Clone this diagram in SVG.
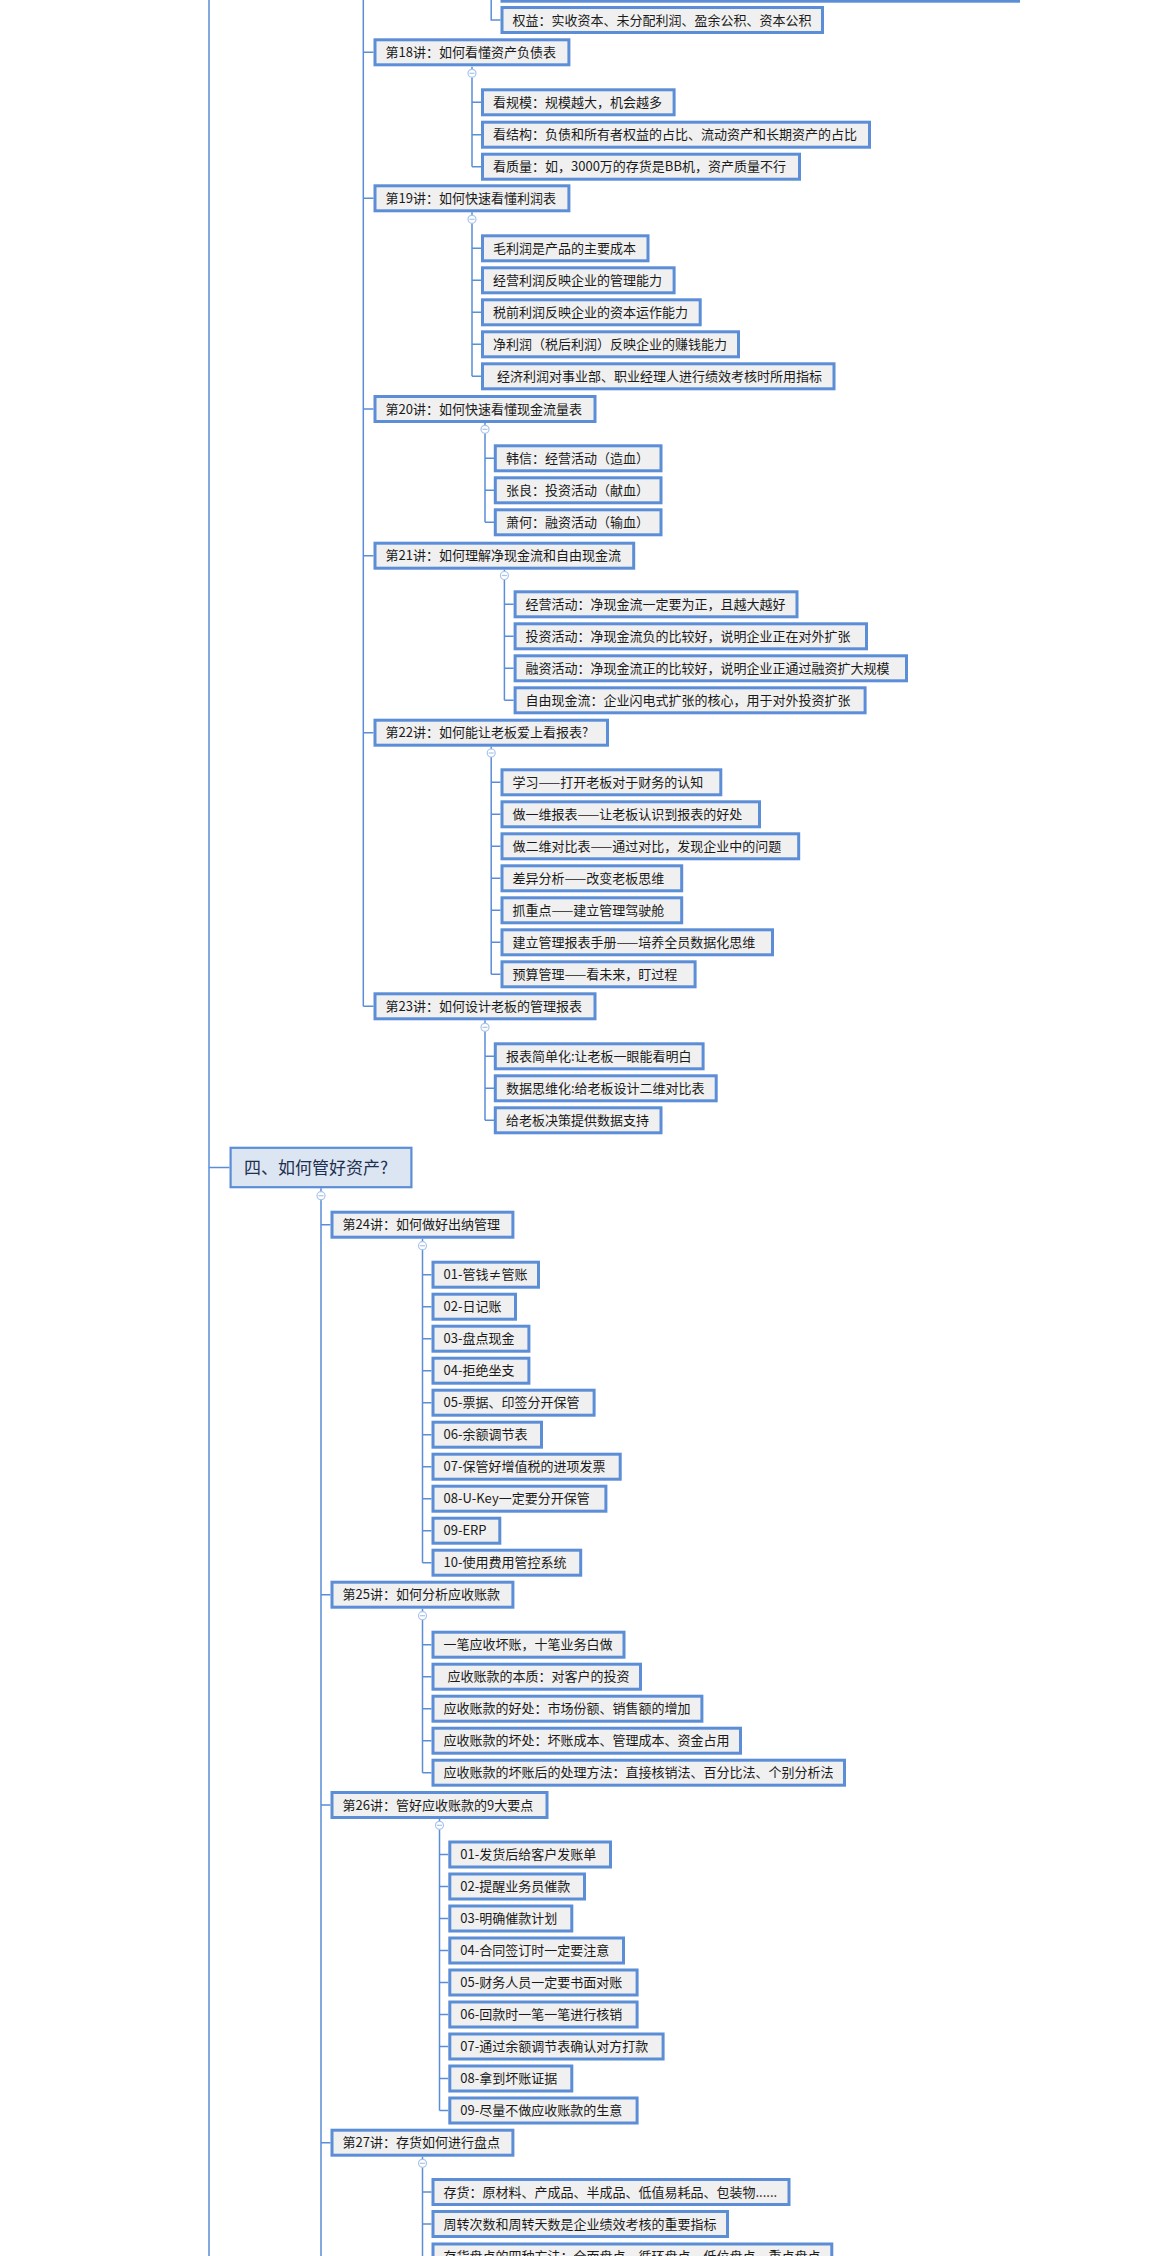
<svg xmlns="http://www.w3.org/2000/svg" width="1153" height="2256" viewBox="0 0 1153 2256">
<style>
.b{fill:#f0f0f0;stroke:#5b8ed6;stroke-width:3}
.t{font-family:"Noto Sans CJK SC","Noto Sans",sans-serif;font-size:13px;fill:#1a1a1a}
.sb{fill:#dce6f2;stroke:#5b8ed6;stroke-width:2.2}
.st{font-family:"Noto Sans CJK SC","Noto Sans",sans-serif;font-size:17px;fill:#1f2f4f}
.ln{stroke:#5b8ed6;stroke-width:1.5;fill:none}
.tg circle{fill:#fff;stroke:#a8c4ec;stroke-width:1.2}
.tg path{stroke:#a8c4ec;stroke-width:1.2}
</style>
<rect x="0" y="0" width="1153" height="2256" fill="#fff"/>
<g id="connectors">
<path class="ln" d="M209 0V2256M209 1167.5H229.5"/>
<path class="ln" d="M363.3 0V1006.3M363.3 52.3H373.5M363.3 198.3H373.5M363.3 409H373.5M363.3 555.7H373.5M363.3 732.7H373.5M363.3 1006.3H373.5"/>
<path class="ln" d="M491.2 0V20H500.5"/>
<path class="ln" d="M472 66.7V69.3M472 77.3V166.7M472 102.3H481M472 134.7H481M472 166.7H481"/>
<path class="ln" d="M472 212.3V215.3M472 223.3V376.3M472 248.3H481M472 280.3H481M472 312.3H481M472 344.3H481M472 376.3H481"/>
<path class="ln" d="M485 423V425.3M485 433.3V522.3M485 458.3H494M485 490.3H494M485 522.3H494"/>
<path class="ln" d="M504.4 569.7V571.5M504.4 579.5V700.3M504.4 604.3H513.6M504.4 636.3H513.6M504.4 668.3H513.6M504.4 700.3H513.6"/>
<path class="ln" d="M491.2 746.7V749M491.2 757V974.3M491.2 782.3H500.5M491.2 814.3H500.5M491.2 846.3H500.5M491.2 878.3H500.5M491.2 910.3H500.5M491.2 942.3H500.5M491.2 974.3H500.5"/>
<path class="ln" d="M485 1020.3V1023.3M485 1031.3V1120.3M485 1056.3H494M485 1088.3H494M485 1120.3H494"/>
<path class="ln" d="M321 1188.3V1191.7M321 1199.7V2256M321 1224.7H330.5M321 1594.7H330.5M321 1805H330.5M321 2142.7H330.5"/>
<path class="ln" d="M422.5 1238.7V1241.7M422.5 1249.7V1562.7M422.5 1274.7H431.5M422.5 1306.7H431.5M422.5 1338.7H431.5M422.5 1370.7H431.5M422.5 1402.7H431.5M422.5 1434.7H431.5M422.5 1466.7H431.5M422.5 1498.7H431.5M422.5 1530.7H431.5M422.5 1562.7H431.5"/>
<path class="ln" d="M422.5 1608.7V1611.7M422.5 1619.7V1772.7M422.5 1644.7H431.5M422.5 1676.7H431.5M422.5 1708.7H431.5M422.5 1740.7H431.5M422.5 1772.7H431.5"/>
<path class="ln" d="M439.5 1819V1821.3M439.5 1829.3V2110.5M439.5 1854.5H448.3M439.5 1886.5H448.3M439.5 1918.5H448.3M439.5 1950.5H448.3M439.5 1982.5H448.3M439.5 2014.5H448.3M439.5 2046.5H448.3M439.5 2078.5H448.3M439.5 2110.5H448.3"/>
<path class="ln" d="M422.5 2156.7V2159.3M422.5 2167.3V2256M422.5 2192H431.5M422.5 2224H431.5"/>
<g class="tg"><circle cx="472" cy="73.3" r="4"/><path d="M469.5 73.3H474.5"/></g>
<g class="tg"><circle cx="472" cy="219.3" r="4"/><path d="M469.5 219.3H474.5"/></g>
<g class="tg"><circle cx="485" cy="429.3" r="4"/><path d="M482.5 429.3H487.5"/></g>
<g class="tg"><circle cx="504.4" cy="575.5" r="4"/><path d="M501.9 575.5H506.9"/></g>
<g class="tg"><circle cx="491.2" cy="753" r="4"/><path d="M488.7 753H493.7"/></g>
<g class="tg"><circle cx="485" cy="1027.3" r="4"/><path d="M482.5 1027.3H487.5"/></g>
<g class="tg"><circle cx="321" cy="1195.7" r="4"/><path d="M318.5 1195.7H323.5"/></g>
<g class="tg"><circle cx="422.5" cy="1245.7" r="4"/><path d="M420 1245.7H425"/></g>
<g class="tg"><circle cx="422.5" cy="1615.7" r="4"/><path d="M420 1615.7H425"/></g>
<g class="tg"><circle cx="439.5" cy="1825.3" r="4"/><path d="M437 1825.3H442"/></g>
<g class="tg"><circle cx="422.5" cy="2163.3" r="4"/><path d="M420 2163.3H425"/></g>
</g>

<g id="n-top"><rect class="b" x="502" y="-23.8" width="516.5" height="25"/></g>
<g id="n-quanyi"><rect class="b" x="502" y="7.5" width="320.5" height="25"/><text class="t" x="512.5" y="24.7">权益：实收资本、未分配利润、盈余公积、资本公积</text></g>

<g id="l18"><rect class="b" x="375" y="39.8" width="193.9" height="25"/><text class="t" x="385.5" y="57">第18讲：如何看懂资产负债表</text></g>
<g id="l18-1"><rect class="b" x="482.5" y="89.8" width="191.6" height="25"/><text class="t" x="493" y="107">看规模：规模越大，机会越多</text></g>
<g id="l18-2"><rect class="b" x="482.5" y="122.2" width="387" height="25"/><text class="t" x="493" y="139.4">看结构：负债和所有者权益的占比、流动资产和长期资产的占比</text></g>
<g id="l18-3"><rect class="b" x="482.5" y="154.2" width="317" height="25"/><text class="t" x="493" y="171.4">看质量：如，3000万的存货是BB机，资产质量不行</text></g>

<g id="l19"><rect class="b" x="375" y="185.8" width="193.9" height="25"/><text class="t" x="385.5" y="203">第19讲：如何快速看懂利润表</text></g>
<g id="l19-1"><rect class="b" x="482.5" y="235.8" width="165.5" height="25"/><text class="t" x="493" y="253">毛利润是产品的主要成本</text></g>
<g id="l19-2"><rect class="b" x="482.5" y="267.8" width="191.6" height="25"/><text class="t" x="493" y="285">经营利润反映企业的管理能力</text></g>
<g id="l19-3"><rect class="b" x="482.5" y="299.8" width="217.7" height="25"/><text class="t" x="493" y="317">税前利润反映企业的资本运作能力</text></g>
<g id="l19-4"><rect class="b" x="482.5" y="331.8" width="256" height="25"/><text class="t" x="493" y="349">净利润（税后利润）反映企业的赚钱能力</text></g>
<g id="l19-5"><rect class="b" x="482.5" y="363.8" width="351.5" height="25"/><text class="t" x="497" y="381">经济利润对事业部、职业经理人进行绩效考核时所用指标</text></g>

<g id="l20"><rect class="b" x="375" y="396.5" width="220" height="25"/><text class="t" x="385.5" y="413.7">第20讲：如何快速看懂现金流量表</text></g>
<g id="l20-1"><rect class="b" x="495.3" y="445.8" width="165.7" height="25"/><text class="t" x="506" y="463">韩信：经营活动（造血）</text></g>
<g id="l20-2"><rect class="b" x="495.3" y="477.8" width="165.7" height="25"/><text class="t" x="506" y="495">张良：投资活动（献血）</text></g>
<g id="l20-3"><rect class="b" x="495.3" y="509.8" width="165.7" height="25"/><text class="t" x="506" y="527">萧何：融资活动（输血）</text></g>

<g id="l21"><rect class="b" x="375" y="543.2" width="258.7" height="25"/><text class="t" x="385.5" y="560.4">第21讲：如何理解净现金流和自由现金流</text></g>
<g id="l21-1"><rect class="b" x="515.1" y="591.8" width="281.9" height="25"/><text class="t" x="525.5" y="609">经营活动：净现金流一定要为正，且越大越好</text></g>
<g id="l21-2"><rect class="b" x="515.1" y="623.8" width="351.4" height="25"/><text class="t" x="525.5" y="641">投资活动：净现金流负的比较好，说明企业正在对外扩张</text></g>
<g id="l21-3"><rect class="b" x="515.1" y="655.8" width="391.4" height="25"/><text class="t" x="525.5" y="673">融资活动：净现金流正的比较好，说明企业正通过融资扩大规模</text></g>
<g id="l21-4"><rect class="b" x="515.1" y="687.8" width="350" height="25"/><text class="t" x="525.5" y="705">自由现金流：企业闪电式扩张的核心，用于对外投资扩张</text></g>

<g id="l22"><rect class="b" x="375" y="720.2" width="232.5" height="25"/><text class="t" x="385.5" y="737.4">第22讲：如何能让老板爱上看报表?</text></g>
<g id="l22-1"><rect class="b" x="502" y="769.8" width="218.8" height="25"/><text class="t" x="512.5" y="787">学习——打开老板对于财务的认知</text></g>
<g id="l22-2"><rect class="b" x="502" y="801.8" width="257.5" height="25"/><text class="t" x="512.5" y="819">做一维报表——让老板认识到报表的好处</text></g>
<g id="l22-3"><rect class="b" x="502" y="833.8" width="296.7" height="25"/><text class="t" x="512.5" y="851">做二维对比表——通过对比，发现企业中的问题</text></g>
<g id="l22-4"><rect class="b" x="502" y="865.8" width="179.7" height="25"/><text class="t" x="512.5" y="883">差异分析——改变老板思维</text></g>
<g id="l22-5"><rect class="b" x="502" y="897.8" width="179.7" height="25"/><text class="t" x="512.5" y="915">抓重点——建立管理驾驶舱</text></g>
<g id="l22-6"><rect class="b" x="502" y="929.8" width="270.5" height="25"/><text class="t" x="512.5" y="947">建立管理报表手册——培养全员数据化思维</text></g>
<g id="l22-7"><rect class="b" x="502" y="961.8" width="193.1" height="25"/><text class="t" x="512.5" y="979">预算管理——看未来，盯过程</text></g>

<g id="l23"><rect class="b" x="375" y="993.8" width="220" height="25"/><text class="t" x="385.5" y="1011">第23讲：如何设计老板的管理报表</text></g>
<g id="l23-1"><rect class="b" x="495.3" y="1043.8" width="207.8" height="25"/><text class="t" x="506" y="1061">报表简单化:让老板一眼能看明白</text></g>
<g id="l23-2"><rect class="b" x="495.3" y="1075.8" width="220.9" height="25"/><text class="t" x="506" y="1093">数据思维化:给老板设计二维对比表</text></g>
<g id="l23-3"><rect class="b" x="495.3" y="1107.8" width="165.7" height="25"/><text class="t" x="506" y="1125">给老板决策提供数据支持</text></g>

<g id="s4"><rect class="sb" x="230.6" y="1147.8" width="180.8" height="39.4"/><text class="st" x="244" y="1173.8">四、如何管好资产?</text></g>

<g id="l24"><rect class="b" x="332" y="1212.2" width="180.9" height="25"/><text class="t" x="342.5" y="1229.4">第24讲：如何做好出纳管理</text></g>
<g id="l24-1"><rect class="b" x="433" y="1262.2" width="105.5" height="25"/><text class="t" x="443.5" y="1279.4">01-管钱≠管账</text></g>
<g id="l24-2"><rect class="b" x="433" y="1294.2" width="82.5" height="25"/><text class="t" x="443.5" y="1311.4">02-日记账</text></g>
<g id="l24-3"><rect class="b" x="433" y="1326.2" width="95.9" height="25"/><text class="t" x="443.5" y="1343.4">03-盘点现金</text></g>
<g id="l24-4"><rect class="b" x="433" y="1358.2" width="95.9" height="25"/><text class="t" x="443.5" y="1375.4">04-拒绝坐支</text></g>
<g id="l24-5"><rect class="b" x="433" y="1390.2" width="161.1" height="25"/><text class="t" x="443.5" y="1407.4">05-票据、印签分开保管</text></g>
<g id="l24-6"><rect class="b" x="433" y="1422.2" width="108.5" height="25"/><text class="t" x="443.5" y="1439.4">06-余额调节表</text></g>
<g id="l24-7"><rect class="b" x="433" y="1454.2" width="187.2" height="25"/><text class="t" x="443.5" y="1471.4">07-保管好增值税的进项发票</text></g>
<g id="l24-8"><rect class="b" x="433" y="1486.2" width="172.9" height="25"/><text class="t" x="443.5" y="1503.4">08-U-Key一定要分开保管</text></g>
<g id="l24-9"><rect class="b" x="433" y="1518.2" width="66.8" height="25"/><text class="t" x="443.5" y="1535.4">09-ERP</text></g>
<g id="l24-10"><rect class="b" x="433" y="1550.2" width="147.7" height="25"/><text class="t" x="443.5" y="1567.4">10-使用费用管控系统</text></g>

<g id="l25"><rect class="b" x="332" y="1582.2" width="180.9" height="25"/><text class="t" x="342.5" y="1599.4">第25讲：如何分析应收账款</text></g>
<g id="l25-1"><rect class="b" x="433" y="1632.2" width="191" height="25"/><text class="t" x="443.5" y="1649.4">一笔应收坏账，十笔业务白做</text></g>
<g id="l25-2"><rect class="b" x="433" y="1664.2" width="207.5" height="25"/><text class="t" x="447.5" y="1681.4">应收账款的本质：对客户的投资</text></g>
<g id="l25-3"><rect class="b" x="433" y="1696.2" width="268.9" height="25"/><text class="t" x="443.5" y="1713.4">应收账款的好处：市场份额、销售额的增加</text></g>
<g id="l25-4"><rect class="b" x="433" y="1728.2" width="307.5" height="25"/><text class="t" x="443.5" y="1745.4">应收账款的坏处：坏账成本、管理成本、资金占用</text></g>
<g id="l25-5"><rect class="b" x="433" y="1760.2" width="411.5" height="25"/><text class="t" x="443.5" y="1777.4">应收账款的坏账后的处理方法：直接核销法、百分比法、个别分析法</text></g>

<g id="l26"><rect class="b" x="332" y="1792.5" width="215" height="25"/><text class="t" x="342.5" y="1809.7">第26讲：管好应收账款的9大要点</text></g>
<g id="l26-1"><rect class="b" x="449.8" y="1842" width="160.7" height="25"/><text class="t" x="460.3" y="1859.2">01-发货后给客户发账单</text></g>
<g id="l26-2"><rect class="b" x="449.8" y="1874" width="134.7" height="25"/><text class="t" x="460.3" y="1891.2">02-提醒业务员催款</text></g>
<g id="l26-3"><rect class="b" x="449.8" y="1906" width="122" height="25"/><text class="t" x="460.3" y="1923.2">03-明确催款计划</text></g>
<g id="l26-4"><rect class="b" x="449.8" y="1938" width="173.7" height="25"/><text class="t" x="460.3" y="1955.2">04-合同签订时一定要注意</text></g>
<g id="l26-5"><rect class="b" x="449.8" y="1970" width="187.3" height="25"/><text class="t" x="460.3" y="1987.2">05-财务人员一定要书面对账</text></g>
<g id="l26-6"><rect class="b" x="449.8" y="2002" width="187.3" height="25"/><text class="t" x="460.3" y="2019.2">06-回款时一笔一笔进行核销</text></g>
<g id="l26-7"><rect class="b" x="449.8" y="2034" width="213.3" height="25"/><text class="t" x="460.3" y="2051.2">07-通过余额调节表确认对方打款</text></g>
<g id="l26-8"><rect class="b" x="449.8" y="2066" width="122" height="25"/><text class="t" x="460.3" y="2083.2">08-拿到坏账证据</text></g>
<g id="l26-9"><rect class="b" x="449.8" y="2098" width="187.3" height="25"/><text class="t" x="460.3" y="2115.2">09-尽量不做应收账款的生意</text></g>

<g id="l27"><rect class="b" x="332" y="2130.2" width="180.9" height="25"/><text class="t" x="342.5" y="2147.4">第27讲：存货如何进行盘点</text></g>
<g id="l27-1"><rect class="b" x="433" y="2179.5" width="356" height="25"/><text class="t" x="443.5" y="2196.7">存货：原材料、产成品、半成品、低值易耗品、包装物......</text></g>
<g id="l27-2"><rect class="b" x="433" y="2211.5" width="294.5" height="25"/><text class="t" x="443.5" y="2228.7">周转次数和周转天数是企业绩效考核的重要指标</text></g>
<g id="l27-3"><rect class="b" x="433" y="2244" width="398.8" height="25"/><text class="t" x="443.5" y="2261.2">存货盘点的四种方法：全面盘点、循环盘点、低位盘点、重点盘点</text></g>
</svg>
